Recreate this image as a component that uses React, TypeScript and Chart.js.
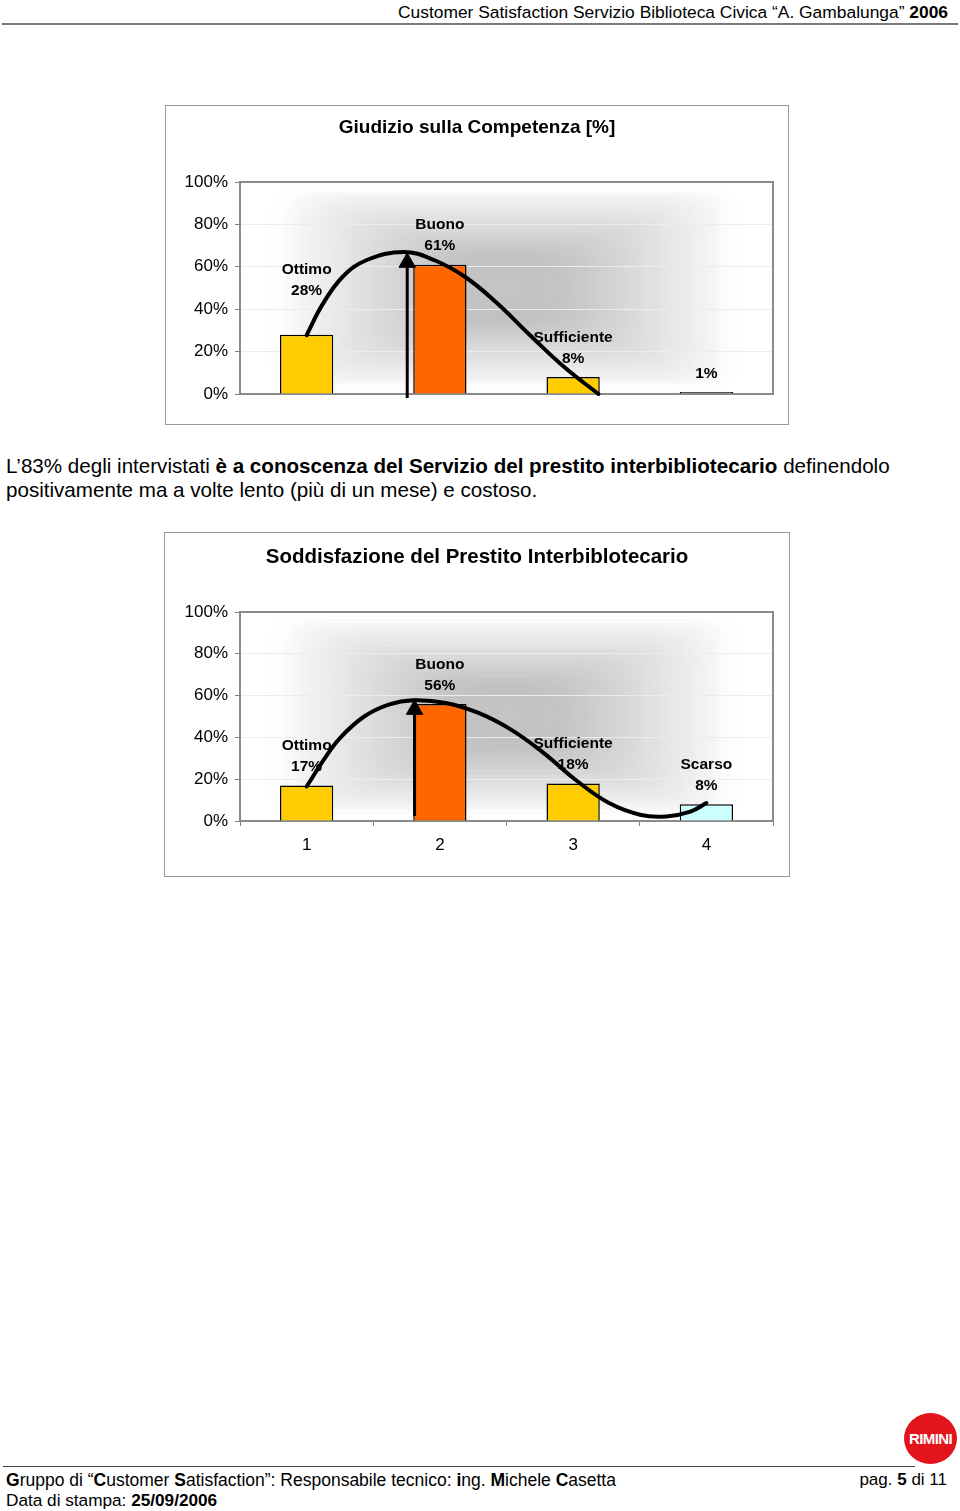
import React, { useEffect, useRef } from "react";
import { Chart, registerables } from "chart.js";

Chart.register(...registerables);

const FONT = "'Liberation Sans', Arial, Helvetica, sans-serif";

// ---------- DATA ----------
const categories = ["1", "2", "3", "4"];
const yTickStep = 20;

const competenzaTitle = "Giudizio sulla Competenza [%]";
const competenzaNames = ["Ottimo", "Buono", "Sufficiente", ""];
const competenzaValues = [28, 61, 8, 1];
const competenzaColors = ["#FFCC00", "#FF6600", "#FFCC00", "#969696"];
// hand-drawn trend curve (category index, percent)
const competenzaCurveX = [0, 0.115, 0.269, 0.448, 0.729, 0.96, 1.19, 1.42, 1.677, 1.933, 2.19];
const competenzaCurveY = [27.7, 41.8, 55.2, 63.1, 67, 63.1, 55.2, 43.4, 27.7, 12.7, 0];
const competenzaArrowX = [0.755, 0.755];
const competenzaArrowY = [-1.9, 62];

const prestitoTitle = "Soddisfazione del Prestito Interbiblotecario";
const prestitoNames = ["Ottimo", "Buono", "Sufficiente", "Scarso"];
const prestitoValues = [17, 56, 18, 8];
const prestitoColors = ["#FFCC00", "#FF6600", "#FFCC00", "#CCFFFF"];
const prestitoCurveX = [0, 0.128, 0.25, 0.432, 0.616, 0.8, 1.045, 1.29, 1.534, 1.78, 2.02, 2.27, 2.51, 2.7, 2.88, 3.0];
const prestitoCurveY = [16.5, 29.2, 39.7, 50, 55.7, 57.8, 56.5, 51.7, 43.7, 32.5, 19.6, 8.6, 2.9, 2.2, 4.5, 8.6];
const prestitoArrowX = [0.81, 0.81];
const prestitoArrowY = [2.4, 53.3];

// ---------- PLUGIN ----------
function makeDecor(cfg: any) {
  return {
    id: "decor",
    beforeDraw(chart: any) {
      const { ctx, chartArea: ca, width, height } = chart;
      ctx.save();
      ctx.fillStyle = "#ffffff";
      ctx.fillRect(0, 0, width, height);
      ctx.save();
      ctx.beginPath();
      ctx.rect(ca.left, ca.top, ca.right - ca.left, ca.bottom - ca.top);
      ctx.clip();
      try {
        ctx.filter = "blur(10px)";
      } catch (e) {}
      const cx = (ca.left + ca.right) / 2;
      const cy = (ca.top + ca.bottom) / 2;
      const hw = (ca.right - ca.left) / 2;
      const hh = (ca.bottom - ca.top) / 2;
      const N = 90;
      for (let k = 0; k < N; k++) {
        const t = 1 - k / N;
        let g;
        if (t >= 0.85) g = 255;
        else if (t <= 0.2) g = 198;
        else g = 198 + ((t - 0.2) / 0.65) * 57;
        g = Math.round(g);
        ctx.fillStyle = `rgb(${g},${g},${g})`;
        ctx.fillRect(cx - hw * t, cy - hh * t, 2 * hw * t, 2 * hh * t);
      }
      ctx.restore();
      ctx.filter = "none";
      ctx.fillStyle = "#000";
      ctx.font = `bold ${cfg.titleSize}px ${FONT}`;
      ctx.textAlign = "center";
      ctx.textBaseline = "middle";
      ctx.fillText(cfg.title, width / 2, cfg.titleY);
      ctx.restore();
    },
    beforeDatasetsDraw(chart: any) {
      const { ctx, chartArea: ca } = chart;
      ctx.save();
      ctx.strokeStyle = "#8a8a8a";
      ctx.lineWidth = 2;
      ctx.strokeRect(ca.left, ca.top, ca.right - ca.left, ca.bottom - ca.top);
      ctx.restore();
    },
    afterDatasetDraw(chart: any, args: any) {
      if (args.index !== 0) return;
      const { ctx } = chart;
      const meta = chart.getDatasetMeta(0);
      ctx.save();
      ctx.fillStyle = "#000";
      ctx.font = `bold 15.5px ${FONT}`;
      ctx.textAlign = "center";
      ctx.textBaseline = "middle";
      meta.data.forEach((el: any, i: number) => {
        const shift = (cfg.shifts && cfg.shifts[i]) || 0;
        const base = el.y - 18.5 - shift;
        ctx.fillText(cfg.values[i] + "%", el.x, base);
        if (cfg.names[i]) ctx.fillText(cfg.names[i], el.x, base - 21);
      });
      ctx.restore();
    },
  };
}

function makeConfig(p: any) {
  return {
    type: "bar",
    data: {
      labels: categories,
      datasets: [
        {
          type: "bar",
          data: p.values,
          backgroundColor: p.colors,
          borderColor: "#000",
          borderWidth: 1.5,
          barPercentage: 0.4,
          categoryPercentage: 1,
          grouped: false,
          xAxisID: "x",
          yAxisID: "y",
          order: 3,
        },
        {
          type: "line",
          data: p.curveX.map((x: number, i: number) => ({ x, y: p.curveY[i] })),
          xAxisID: "xc",
          yAxisID: "y",
          borderColor: "#000",
          borderWidth: 4,
          borderCapStyle: "round",
          tension: 0.4,
          pointRadius: 0,
          fill: false,
          clip: false,
          order: 1,
        },
        {
          type: "line",
          data: p.arrowX.map((x: number, i: number) => ({ x, y: p.arrowY[i] })),
          xAxisID: "xc",
          yAxisID: "y",
          borderColor: "#000",
          borderWidth: 3,
          tension: 0,
          pointStyle: "triangle",
          pointRadius: [0, 9.5],
          pointBackgroundColor: "#000",
          pointBorderColor: "#000",
          pointBorderWidth: 1,
          fill: false,
          clip: false,
          order: 0,
        },
      ],
    },
    options: {
      animation: false,
      responsive: false,
      events: [],
      layout: { padding: p.padding },
      plugins: {
        legend: { display: false },
        tooltip: { enabled: false },
        title: { display: false },
      },
      scales: {
        x: {
          type: "category",
          display: p.showX,
          offset: true,
          grid: {
            display: true,
            offset: true,
            drawOnChartArea: false,
            drawTicks: true,
            tickLength: 5,
            color: "#808080",
            tickColor: "#808080",
          },
          border: { display: false },
          ticks: { font: { family: FONT, size: 17 }, color: "#000", padding: 9 },
          afterFit: (s: any) => {
            if (p.showX) s.height = 40;
          },
        },
        xc: {
          type: "linear",
          display: false,
          offset: false,
          grid: { offset: false },
          min: -0.5,
          max: 3.5,
        },
        y: {
          min: 0,
          max: 100,
          ticks: {
            stepSize: yTickStep,
            callback: (v: any) => v + "%",
            font: { family: FONT, size: 17 },
            color: "#000",
            padding: 7,
          },
          grid: {
            color: "#ececec",
            lineWidth: 1,
            drawTicks: true,
            tickLength: 5,
            tickColor: "#808080",
          },
          border: { display: false },
          afterFit: (s: any) => {
            s.width = p.yWidth;
          },
        },
      },
    },
    plugins: [
      makeDecor({
        title: p.title,
        titleSize: p.titleSize,
        titleY: p.titleY,
        names: p.names,
        values: p.values,
        shifts: p.shifts,
      }),
    ],
  };
}

function ChartBox(props: any) {
  const ref = useRef<HTMLCanvasElement | null>(null);
  useEffect(() => {
    if (!ref.current) return;
    const chart = new Chart(ref.current, makeConfig(props.cfg) as any);
    return () => chart.destroy();
  }, []);
  return (
    <div
      style={{
        position: "absolute",
        left: props.left,
        top: props.top,
        width: props.w,
        height: props.h,
        border: "1px solid #9a9a9a",
        background: "#fff",
      }}
    >
      <canvas ref={ref} width={props.w} height={props.h} style={{ display: "block" }} />
    </div>
  );
}

const text: React.CSSProperties = {
  position: "absolute",
  fontFamily: FONT,
  color: "#000",
  whiteSpace: "nowrap",
};

export default function App() {
  useEffect(() => {
    document.body.style.margin = "0";
  }, []);
  const chart1 = {
    title: competenzaTitle,
    titleSize: 19,
    titleY: 22,
    names: competenzaNames,
    values: competenzaValues,
    colors: competenzaColors,
    curveX: competenzaCurveX,
    curveY: competenzaCurveY,
    arrowX: competenzaArrowX,
    arrowY: competenzaArrowY,
    shifts: [25, 0, 0, 0],
    showX: false,
    yWidth: 74,
    padding: { left: 0, right: 15, top: 76, bottom: 30 },
  };
  const chart2 = {
    title: prestitoTitle,
    titleSize: 20.5,
    titleY: 24,
    names: prestitoNames,
    values: prestitoValues,
    colors: prestitoColors,
    curveX: prestitoCurveX,
    curveY: prestitoCurveY,
    arrowX: prestitoArrowX,
    arrowY: prestitoArrowY,
    shifts: [0, 0, 0, 0],
    showX: true,
    yWidth: 75,
    padding: { left: 0, right: 16, top: 79, bottom: 15 },
  };
  return (
    <div style={{ position: "absolute", left: 0, top: 0, width: 960, height: 1511, background: "#fff", overflow: "hidden" }}>
      <div style={{ ...text, right: 12, top: 2, fontSize: 17.4, lineHeight: "20px" }}>
        Customer Satisfaction Servizio Biblioteca Civica “A. Gambalunga” <b>2006</b>
      </div>
      <div style={{ position: "absolute", left: 2, top: 23, width: 956, height: 2, background: "#7a7a7a" }} />

      <ChartBox left={165} top={105} w={622} h={318} cfg={chart1} />

      <div style={{ ...text, left: 6, top: 454, fontSize: 20.6, lineHeight: "24px" }}>
        L’83% degli intervistati <b>è a conoscenza del Servizio del prestito interbibliotecario</b> definendolo
        <br />
        positivamente ma a volte lento (più di un mese) e costoso.
      </div>

      <ChartBox left={164} top={532} w={624} h={343} cfg={chart2} />

      <div
        style={{
          position: "absolute",
          left: 904,
          top: 1413,
          width: 53,
          height: 51,
          borderRadius: "50%",
          background: "#E3141B",
          color: "#fff",
          fontFamily: FONT,
          fontSize: 15,
          fontWeight: 600,
          display: "flex",
          alignItems: "center",
          justifyContent: "center",
          letterSpacing: -0.6,
        }}
      >
        RIMINI
      </div>
      <div style={{ position: "absolute", left: 3, top: 1466, width: 912, height: 1, background: "#444" }} />
      <div style={{ ...text, left: 6, top: 1470, fontSize: 17.5, lineHeight: "20px" }}>
        <b>G</b>ruppo di “<b>C</b>ustomer <b>S</b>atisfaction”: Responsabile tecnico: <b>i</b>ng. <b>M</b>ichele <b>C</b>asetta
        <br />
        <span style={{ fontSize: 17.2 }}>
          Data di stampa: <b>25/09/2006</b>
        </span>
      </div>
      <div style={{ ...text, right: 13, top: 1470, fontSize: 17, lineHeight: "20px" }}>
        pag. <b>5</b> di 11
      </div>
    </div>
  );
}
